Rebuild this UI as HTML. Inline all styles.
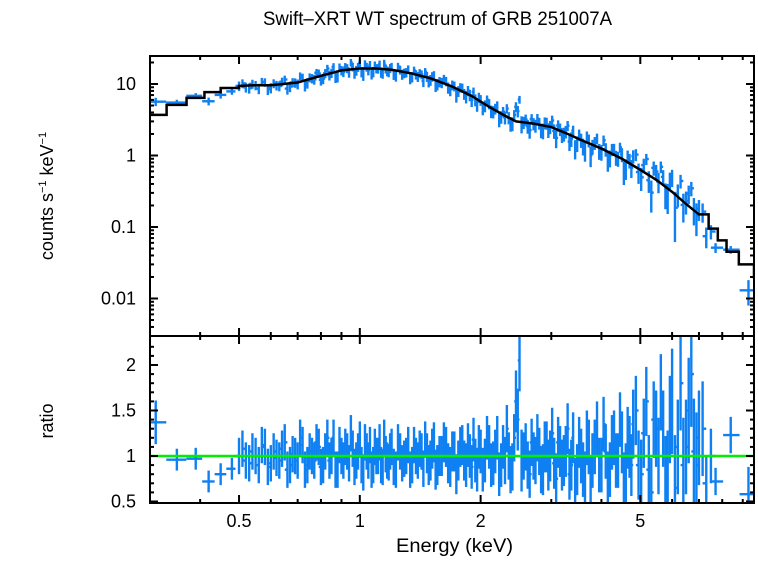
<!DOCTYPE html>
<html><head><meta charset="utf-8"><style>
body{margin:0;background:#fff;}
svg text{font-family:"Liberation Sans",sans-serif;fill:#000;}
</style></head><body>
<svg id="chart" width="758" height="556" viewBox="0 0 758 556" xmlns="http://www.w3.org/2000/svg">
<defs>
<clipPath id="cTop"><rect x="150" y="56" width="604" height="280"/></clipPath>
<clipPath id="cBot"><rect x="150" y="336" width="604" height="167"/></clipPath>
</defs>
<text x="263" y="25" font-size="19" textLength="349" lengthAdjust="spacingAndGlyphs">Swift–XRT WT spectrum of GRB 251007A</text>
<text transform="translate(53,196) rotate(-90)" font-size="18" text-anchor="middle">counts s<tspan font-size="11" dy="-7">−1</tspan><tspan dy="7"> keV</tspan><tspan font-size="11" dy="-7">−1</tspan></text>
<text transform="translate(53,421) rotate(-90)" font-size="18" text-anchor="middle">ratio</text>
<text x="396" y="552" font-size="19" textLength="117" lengthAdjust="spacingAndGlyphs">Energy (keV)</text>
<g id="gTop" clip-path="url(#cTop)"></g>
<g id="gBot" clip-path="url(#cBot)"></g>
<g id="gAx"></g>
</svg>
<script>
const energies=[0.31,0.35,0.39,0.42,0.45,0.48,0.5,0.52,0.54,0.56,
0.58,0.6,0.62,0.64,0.66,0.68,0.7,0.72,0.74,0.76,
0.78,0.8,0.82,0.84,0.86,0.88,0.9,0.92,0.94,0.96,
0.98,1.0,1.02,1.04,1.06,1.08,1.1,1.12,1.14,1.16,
1.18,1.2,1.23,1.26,1.29,1.32,1.35,1.38,1.41,1.44,
1.47,1.5,1.53,1.56,1.6,1.64,1.68,1.72,1.76,1.8,
1.84,1.88,1.92,1.96,2.0,2.05,2.1,2.15,2.2,2.25,
2.3,2.35,2.4,2.45,2.5,2.56,2.62,2.68,2.74,2.8,
2.86,2.92,2.98,3.05,3.12,3.19,3.26,3.33,3.4,3.48,
3.56,3.64,3.72,3.8,3.9,4.0,4.1,4.2,4.3,4.4,
4.5,4.6,4.7,4.8,4.95,5.1,5.25,5.4,5.55,5.7,
5.85,6.0,6.2,6.4,6.6,6.8,7.0,7.3,7.7,8.4,9.3];
const ratios=[1.37,0.96,0.97,0.72,0.8,0.86,1.0,0.95,1.05,0.9,
1.1,0.92,0.98,1.08,0.85,1.02,0.95,1.12,0.9,1.0,
1.15,0.88,1.05,0.95,1.2,0.85,1.0,1.1,0.92,1.08,
0.95,1.18,0.82,1.05,1.12,0.9,1.0,1.15,0.88,1.02,
0.93,1.1,0.85,1.05,0.97,1.12,0.9,1.0,1.08,0.86,
1.03,0.95,1.15,0.9,1.0,1.1,0.88,1.05,0.95,1.12,
0.9,1.0,1.18,0.85,1.05,0.95,1.1,0.92,1.2,0.9,
0.95,1.0,0.88,1.6,2.05,1.0,0.9,1.15,0.95,1.05,
0.85,1.1,1.0,0.92,1.15,0.9,1.05,0.8,1.2,0.85,
1.0,0.75,1.1,0.95,1.3,0.9,1.05,0.85,1.2,0.95,
1.15,0.8,1.1,1.35,0.9,1.25,0.85,1.4,1.0,1.3,
0.8,1.6,1.1,0.9,1.5,1.05,1.2,0.7,0.72,1.23,0.58];
const ratios2=[0.95,0.98,0.75,0.85,0.9,0.95,1.08,0.92,1.0,1.12,
0.88,1.05,0.95,1.15,0.9,1.0,1.2,0.85,1.05,0.95,
1.1,0.9,1.2,1.0,0.85,1.12,0.95,1.05,1.25,0.88,
1.05,0.9,1.15,0.95,0.85,1.1,1.0,0.9,1.2,0.95,
1.05,0.88,1.15,0.92,1.0,0.85,1.12,0.95,1.05,1.18,
0.9,1.08,0.85,1.0,1.15,0.92,1.05,0.8,1.1,0.95,
1.12,0.88,0.95,1.1,0.85,1.2,0.9,1.05,0.8,1.1,
1.3,0.85,1.2,1.4,0.95,1.1,0.8,1.0,1.2,0.85,
1.1,0.9,1.25,0.75,1.05,0.95,1.3,0.9,0.7,1.15,
0.85,1.2,0.7,1.1,0.9,1.35,0.75,1.15,0.95,1.4,
0.7,1.2,0.9,1.5,0.8,1.6,0.6,1.3,1.7,0.8,
1.4,0.65,1.8,1.1,1.9,0.9,1.3,1.0,0.75,0.9];
const ratioErr=[0.24,0.12,0.12,0.12,0.12,0.12,0.2,0.2,0.2,0.2,
0.2,0.2,0.2,0.2,0.2,0.2,0.2,0.2,0.2,0.2,
0.2,0.2,0.2,0.2,0.2,0.2,0.2,0.2,0.2,0.2,
0.2,0.2,0.2,0.2,0.2,0.2,0.2,0.2,0.2,0.2,
0.2,0.2,0.2,0.2,0.2,0.2,0.2,0.2,0.2,0.2,
0.22,0.22,0.22,0.22,0.22,0.22,0.22,0.22,0.22,0.22,
0.24,0.24,0.24,0.24,0.24,0.24,0.24,0.24,0.24,0.24,
0.26,0.26,0.26,0.34,0.34,0.26,0.26,0.26,0.26,0.26,
0.28,0.28,0.28,0.28,0.28,0.28,0.28,0.28,0.28,0.28,
0.3,0.3,0.3,0.3,0.3,0.3,0.3,0.3,0.3,0.3,
0.34,0.34,0.34,0.38,0.38,0.38,0.38,0.42,0.42,0.42,
0.48,0.58,0.52,0.52,0.58,0.58,0.52,0.3,0.15,0.2,0.3];
const modelE=[0.3,0.33,0.37,0.41,0.45,0.5,0.55,0.6,0.7,0.8,0.9,1.0,1.1,1.2,1.35,1.5,1.7,1.9,2.1,2.3,2.45,2.7,3.0,3.3,3.6,4.0,4.5,5.0,5.5,6.0,6.5,7.0,7.4,7.8,8.2,8.8,9.6];
const modelV=[3.7,5.1,6.4,7.7,8.8,9.4,9.6,9.6,10.5,13,15.5,16.5,16.5,15.8,14,12,9.2,6.8,4.8,3.6,3.0,2.8,2.5,2.0,1.6,1.25,0.9,0.63,0.45,0.31,0.21,0.15,0.095,0.065,0.045,0.03,0.019];
const xTickVals=[0.5,1,2,5], xTickLabels=["0.5","1","2","5"];
const yTopTickVals=[10,1,0.1,0.01], yTopTickLabels=["10","1","0.1","0.01"];
const yBotTickVals=[2,1.5,1,0.5], yBotTickLabels=["2","1.5","1","0.5"];

const NS="http://www.w3.org/2000/svg";
const X0=150,X1=754,EMIN=0.3,EMAX=9.6;
const xs=e=>X0+(Math.log10(e)-Math.log10(EMIN))/(Math.log10(EMAX)-Math.log10(EMIN))*(X1-X0);
const yTop=v=>84+(1-Math.log10(v))*71.5;
const yBot=r=>456-(r-1)*91;
function mk(tag,attrs,parent){const el=document.createElementNS(NS,tag);for(const k in attrs)el.setAttribute(k,attrs[k]);parent.appendChild(el);return el;}
function model(e){
  if(e<=modelE[0])return modelV[0];
  for(let i=0;i<modelE.length-1;i++){if(e<=modelE[i+1]){const t=(Math.log(e)-Math.log(modelE[i]))/(Math.log(modelE[i+1])-Math.log(modelE[i]));return Math.exp(Math.log(modelV[i])*(1-t)+Math.log(modelV[i+1])*t);}}
  return modelV[modelV.length-1];
}
const gTop=document.getElementById('gTop'),gBot=document.getElementById('gBot'),gAx=document.getElementById('gAx');
const BLUE="#0f80f2";
function drawPoint(e,lo,hi,r,re){
  const m=model(e),d=r*m,de=re*m*0.75,x=xs(e);
  const g1=mk('g',{stroke:BLUE,'stroke-width':2.4},gTop);
  
  
  mk('line',{x1:xs(lo),x2:xs(hi),y1:yTop(d),y2:yTop(d)},g1);
  mk('line',{x1:x,x2:x,y1:yTop(d+de),y2:yTop(Math.max(d-de,1e-4))},g1);
  const g2=mk('g',{stroke:BLUE,'stroke-width':2.4},gBot);
  
  
  mk('line',{x1:xs(lo),x2:xs(hi),y1:yBot(r),y2:yBot(r)},g2);
  mk('line',{x1:x,x2:x,y1:yBot(r+re),y2:yBot(r-re)},g2);
}
for(let i=0;i<energies.length;i++){
  const e=energies[i];
  const lo=i>0?Math.sqrt(energies[i-1]*e):e*e/Math.sqrt(e*energies[i+1]);
  const hi=i<energies.length-1?Math.sqrt(energies[i+1]*e):e*e/Math.sqrt(e*energies[i-1]);
  if(i>=6&&i<energies.length-3) drawPoint(e,lo,e,ratios[i],ratioErr[i]);
  else drawPoint(e,lo,hi,ratios[i],ratioErr[i]);
}
for(let i=6;i<energies.length-3;i++){
  const e=Math.sqrt(energies[i]*energies[i+1]);
  drawPoint(e,e,energies[i+1],ratios2[i],ratioErr[i]);
}
let p="";
for(let i=0;i<modelE.length;i++){
  const x=xs(modelE[i]),y=yTop(modelV[i]);
  if(i===0)p+="M"+x+","+y;
  else if(i<=5||i>=32)p+=" H"+x+" V"+y;
  else p+=" L"+x+","+y;
}
p+=" H"+X1;
const ml=mk('path',{d:p,fill:'none',stroke:'#000','stroke-width':2.5},gTop);


const gl=mk('line',{x1:X0,x2:X1,y1:yBot(1),y2:yBot(1),stroke:'#00ee00','stroke-width':2.5},gBot);


const f1=mk('rect',{x:X0,y:56,width:X1-X0,height:280,fill:'none',stroke:'#000','stroke-width':2},gAx);


const f2=mk('rect',{x:X0,y:336,width:X1-X0,height:167,fill:'none',stroke:'#000','stroke-width':2},gAx);


const minorX=[0.3,0.4,0.6,0.7,0.8,0.9,3,4,6,7,8,9];
function xt(e,len){for(const [a,b] of [[56,1],[336,1],[336,-1],[503,-1]]){mk('line',{x1:xs(e),x2:xs(e),y1:a,y2:a+b*len,stroke:'#000','stroke-width':2},gAx);}}
minorX.forEach(e=>xt(e,4));
xTickVals.forEach((e,i)=>{xt(e,8);
  const t=mk('text',{x:xs(e),y:527,'font-size':18,'text-anchor':'middle'},gAx);t.textContent=xTickLabels[i];
  
  });
function yt(y,len){mk('line',{x1:X0,x2:X0+len,y1:y,y2:y,stroke:'#000','stroke-width':2},gAx);mk('line',{x1:X1,x2:X1-len,y1:y,y2:y,stroke:'#000','stroke-width':2},gAx);}
for(let dec=-3;dec<=1;dec++){for(let k=2;k<=9;k++){const v=k*Math.pow(10,dec);const y=yTop(v);if(y>57&&y<335)yt(y,4);}}
yTopTickVals.forEach((v,i)=>{yt(yTop(v),8);
  const t=mk('text',{x:136,y:yTop(v)+6,'font-size':18,'text-anchor':'end'},gAx);t.textContent=yTopTickLabels[i];
  
  });
[0.6,0.7,0.8,0.9,1.1,1.2,1.3,1.4,1.6,1.7,1.8,1.9,2.1,2.2].forEach(v=>yt(yBot(v),4));
yBotTickVals.forEach((v,i)=>{yt(yBot(v),8);
  const t=mk('text',{x:136,y:yBot(v)+6,'font-size':18,'text-anchor':'end'},gAx);t.textContent=yBotTickLabels[i];
  
  });
</script>
</body></html>
